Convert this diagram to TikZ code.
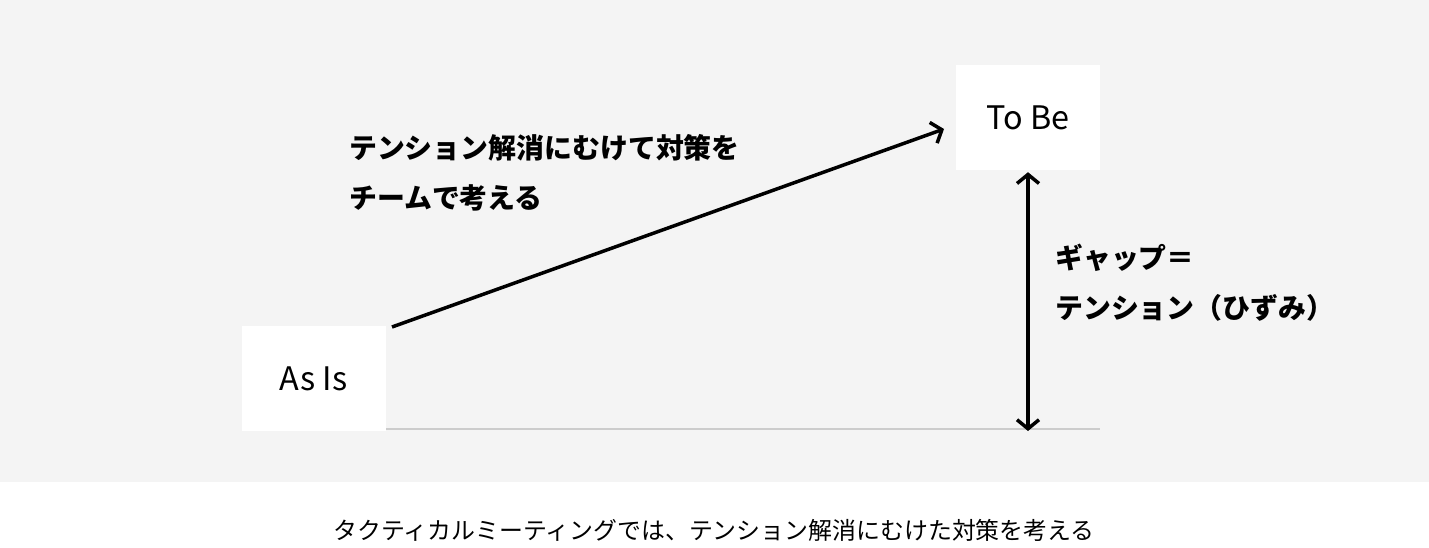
\documentclass[tikz,border=0pt]{standalone}
\usepackage{fontspec}
\setmainfont{Noto Sans CJK JP}
\usetikzlibrary{arrows.meta}
\definecolor{bggray}{HTML}{F4F4F4}
\definecolor{basegray}{HTML}{CCCCCC}
\tikzset{
  statebox/.style={fill=white, minimum width=144bp, minimum height=105bp, inner sep=0pt, font=\fontsize{32.5}{38}\selectfont},
  lbl/.style={font=\bfseries\fontsize{28}{50}\selectfont, align=left, inner sep=0pt, anchor=west},
  conn/.style={line width=3.5bp, -{Straight Barb[length=9bp, width=22bp, line width=3.5bp]}},
  biconn/.style={line width=3.5bp, {Straight Barb[length=9bp, width=22bp, line width=3.5bp]}-{Straight Barb[length=9bp, width=22bp, line width=3.5bp]}}
}
\begin{document}
\begin{tikzpicture}[x=1bp, y=-1bp]
\useasboundingbox (0,0) rectangle (1429,548);
\fill[bggray] (0,0) rectangle (1429,482);
% baseline
\draw[basegray, line width=2bp] (385,428.5) -- (1100,428.5);
\node[statebox] (asis) at (313.5,378.5) {As Is};
\node[statebox] (tobe) at (1028,117.5) {To Be};
\coordinate (start) at (392,327);
\coordinate (tip) at (944,129);
\coordinate (bottom) at (1028,431);
\draw[conn] (start) -- (tip);
\draw[biconn] ([yshift=-2bp]tobe.south) -- (bottom);
\node[lbl] (plan) at (349,173) {テンション解消にむけて対策を\\チームで考える};
\node[lbl] (gap) at (1055,283) {ギャップ＝\\テンション（ひずみ）};
\node[font=\fontsize{24}{28}\selectfont, inner sep=0pt] (caption) at (714,530) {タクティカルミーティングでは、テンション解消にむけた対策を考える};
\end{tikzpicture}
\end{document}
